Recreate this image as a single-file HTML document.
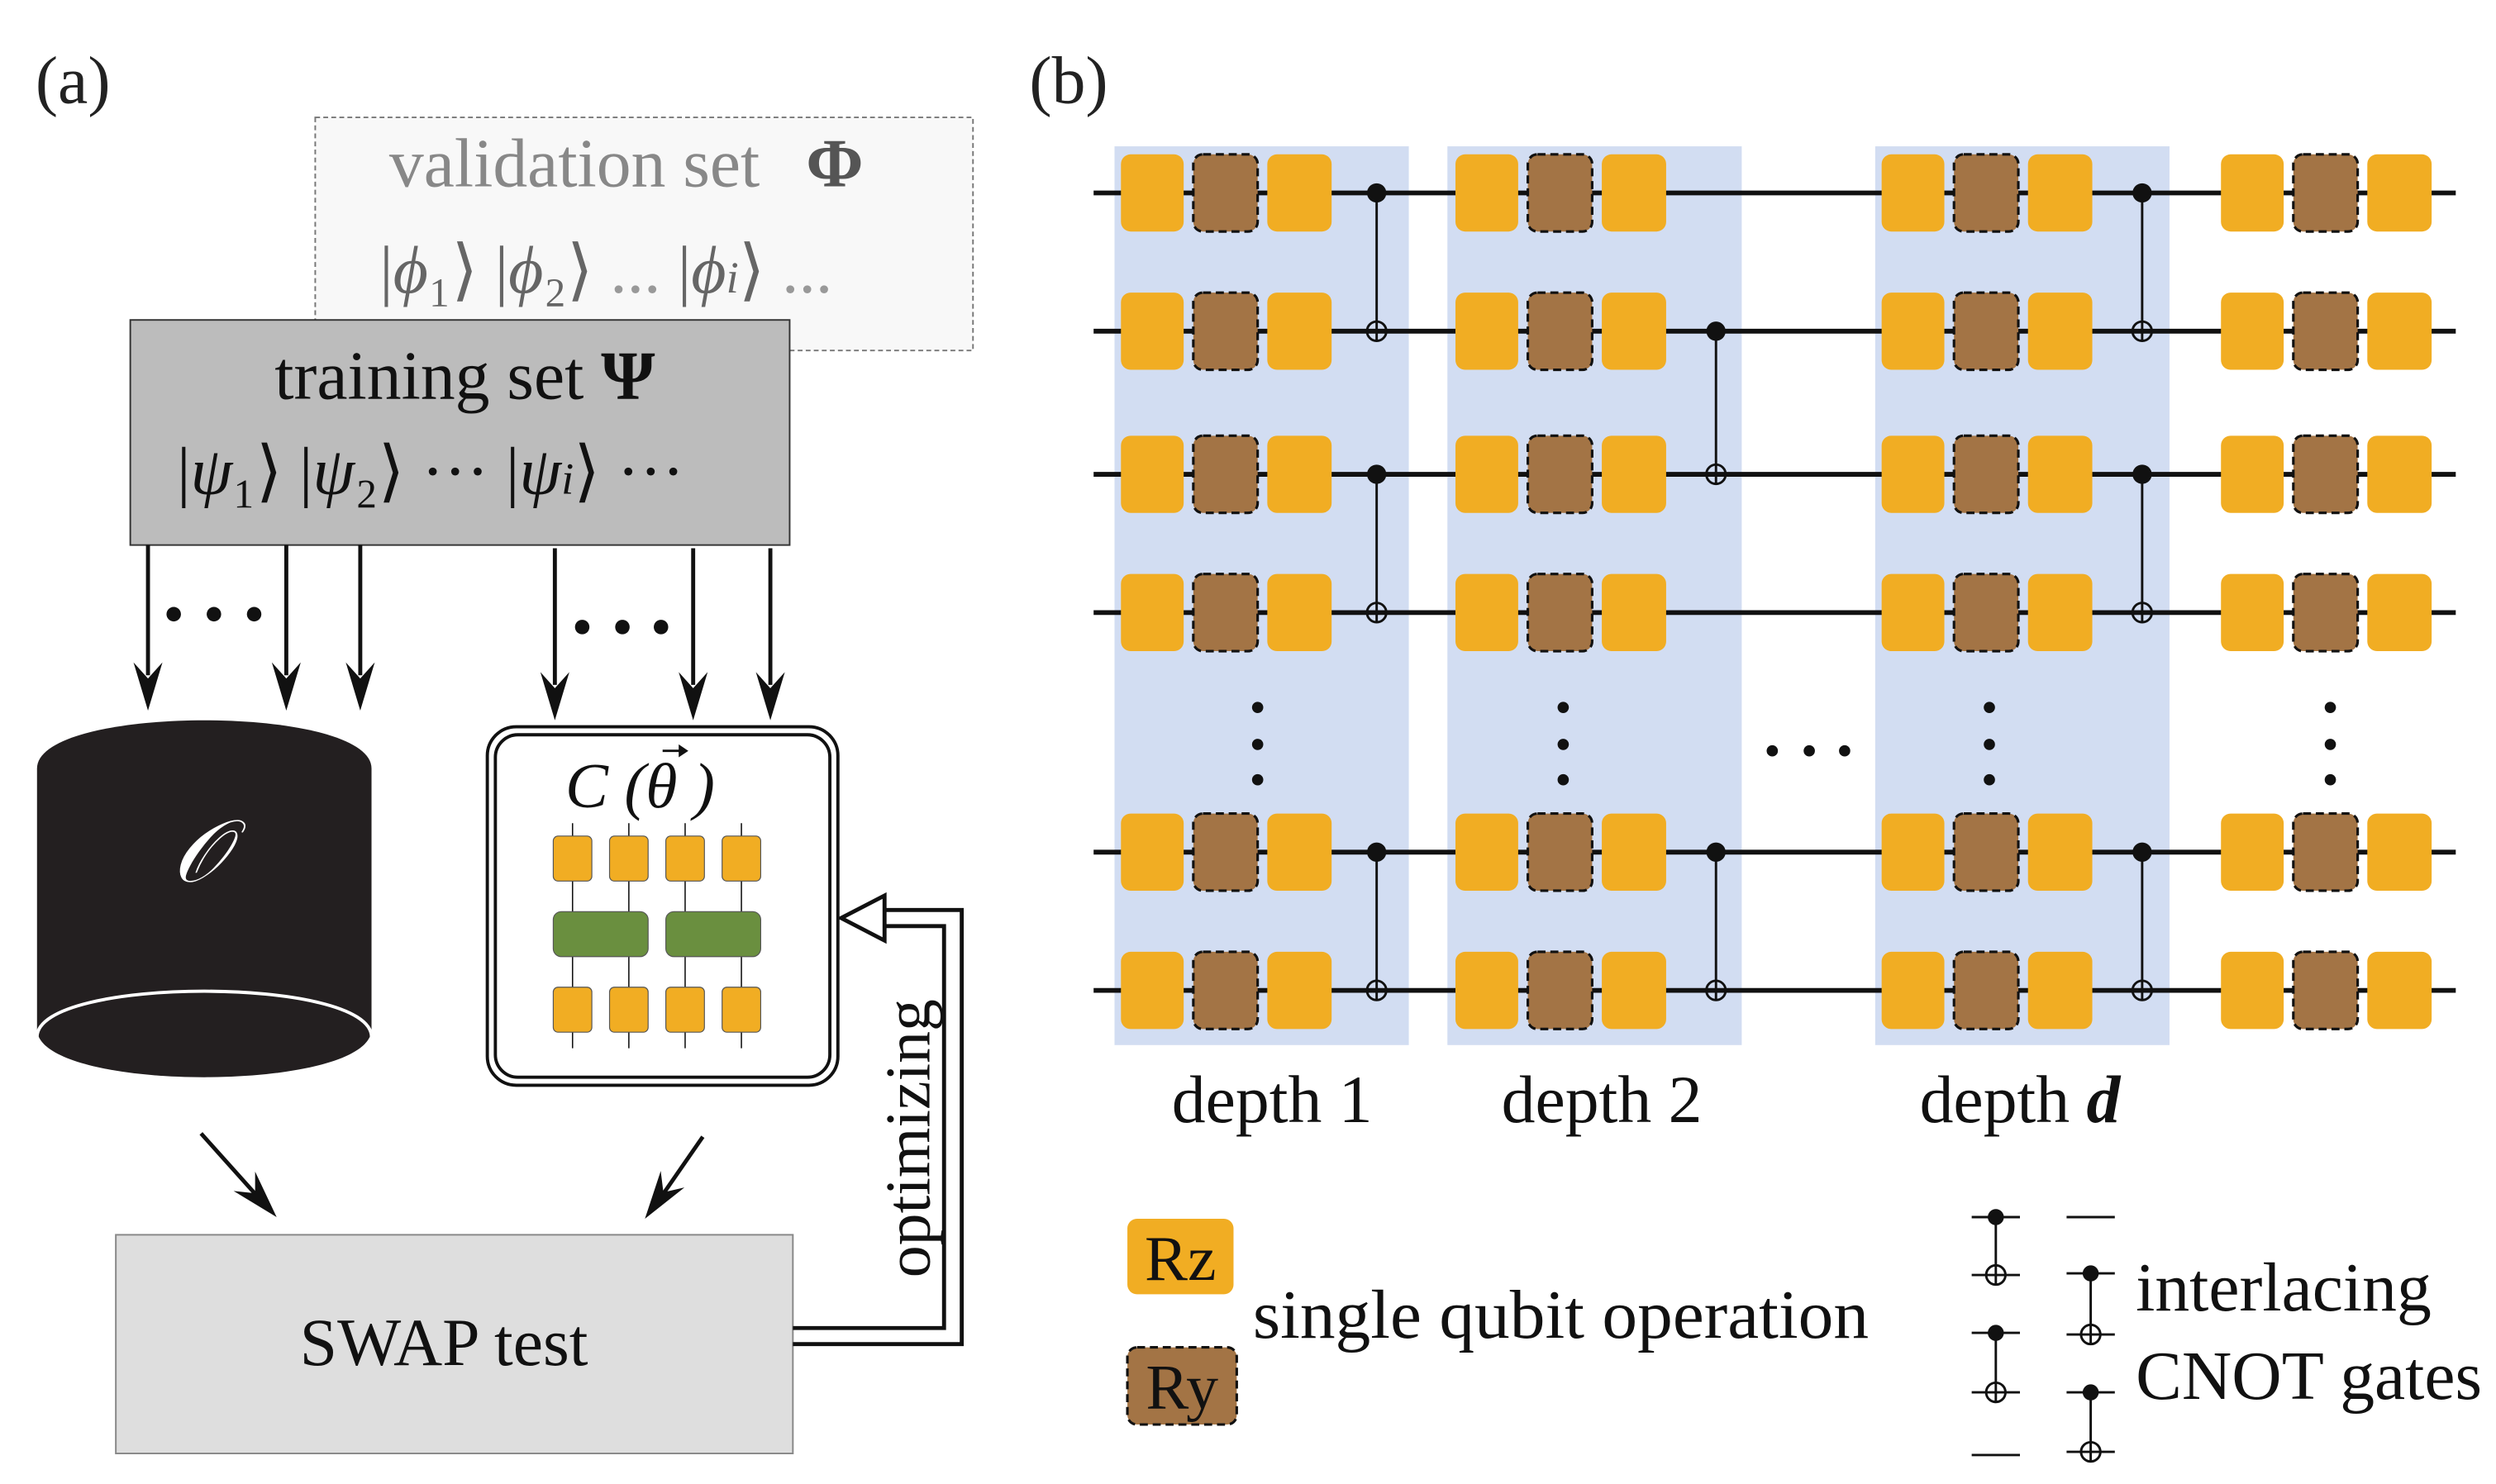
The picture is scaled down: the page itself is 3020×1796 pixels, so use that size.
<!DOCTYPE html>
<html><head><meta charset="utf-8"><style>html,body{margin:0;padding:0;background:#fff}svg{display:block}text{font-family:"Liberation Serif",serif}</style></head><body>
<svg width="3020" height="1796" viewBox="0 0 1552 923" xmlns="http://www.w3.org/2000/svg">
<defs>
<g id="gates"><rect x="0" y="-24" width="39" height="48" rx="6" fill="#f1ad23"/><rect x="45" y="-24" width="40" height="48" rx="6" fill="#a37445" stroke="#111" stroke-width="1.6" stroke-dasharray="5,3"/><rect x="91" y="-24" width="40" height="48" rx="6" fill="#f1ad23"/></g>
<path id="hd" d="M0,0 L-9,-30 L0,-20 L9,-30 Z" fill="#111"/>
</defs>
<text x="22" y="64" font-size="42" fill="#222">(a)</text>
<text x="640" y="64" font-size="42" fill="#222">(b)</text>
<!-- validation -->
<rect x="196" y="73" width="409" height="145" fill="#f8f8f8" stroke="#777" stroke-width="1" stroke-dasharray="3,2"/>
<text x="242" y="116" font-size="43" fill="#888">validation set <tspan font-weight="bold" fill="#555" dx="18">Φ</tspan></text>
<text x="236" y="182" font-size="42" fill="#666">|<tspan font-style="italic">ϕ</tspan>₁⟩ |<tspan font-style="italic">ϕ</tspan>₂⟩ <tspan fill="#999">...</tspan>  |<tspan font-style="italic">ϕ<tspan font-size="28">i</tspan></tspan>⟩ <tspan fill="#999">...</tspan></text>
<!-- training -->
<rect x="81" y="199" width="410" height="140" fill="#bcbcbc" stroke="#333" stroke-width="1"/>
<text x="289" y="248" font-size="43" text-anchor="middle" fill="#111">training set <tspan font-weight="bold">Ψ</tspan></text>
<text x="110" y="307" font-size="42" fill="#111">|<tspan font-style="italic">ψ</tspan>₁⟩ |<tspan font-style="italic">ψ</tspan>₂⟩  ···  |<tspan font-style="italic">ψ<tspan font-size="28">i</tspan></tspan>⟩  ···</text>
<g stroke="#111" stroke-width="2.5">
<line x1="92" y1="339" x2="92" y2="420"/><line x1="178" y1="339" x2="178" y2="420"/><line x1="224" y1="339" x2="224" y2="420"/>
<line x1="345" y1="341" x2="345" y2="426"/><line x1="431" y1="341" x2="431" y2="426"/><line x1="479" y1="341" x2="479" y2="426"/>
<line x1="125" y1="705" x2="160" y2="744"/><line x1="437" y1="707" x2="410" y2="746"/>
</g>
<use href="#hd" x="92" y="442"/><use href="#hd" x="178" y="442"/><use href="#hd" x="224" y="442"/>
<use href="#hd" x="345" y="448"/><use href="#hd" x="431" y="448"/><use href="#hd" x="479" y="448"/>
<use href="#hd" transform="translate(172,757) rotate(-42)"/>
<use href="#hd" transform="translate(401,758) rotate(35)"/>
<g fill="#111"><circle cx="108" cy="382" r="4.5"/><circle cx="133" cy="382" r="4.5"/><circle cx="158" cy="382" r="4.5"/><circle cx="362" cy="390" r="4.5"/><circle cx="387" cy="390" r="4.5"/><circle cx="411" cy="390" r="4.5"/></g>
<!-- cylinder -->
<path d="M23,478 C23,438 231,438 231,478 L231,640 C231,680 23,680 23,640 Z" fill="#231f20"/>
<path d="M23,645 C23,607 231,607 231,645" fill="none" stroke="#fff" stroke-width="2"/>
<text x="124" y="548" font-size="54" font-style="italic" fill="#fff" text-anchor="middle">𝒪</text>
<!-- C box -->
<rect x="303" y="452" width="218" height="223" rx="18" fill="#fff" stroke="#111" stroke-width="2"/>
<rect x="308" y="457" width="208" height="213" rx="14" fill="none" stroke="#111" stroke-width="2"/>
<text x="398" y="502" font-size="40" font-style="italic" text-anchor="middle" fill="#111">C (θ )</text>
<line x1="412" y1="467" x2="426" y2="467" stroke="#111" stroke-width="1.5"/><path d="M428,467 L422,463 L422,471 Z" fill="#111"/>
<g stroke="#111" stroke-width="0.8"><line x1="356" y1="512" x2="356" y2="652"/><line x1="391" y1="512" x2="391" y2="652"/><line x1="426" y1="512" x2="426" y2="652"/><line x1="461" y1="512" x2="461" y2="652"/></g>
<g fill="#f1ad23" stroke="#555" stroke-width="0.6">
<rect x="344" y="520" width="24" height="28" rx="3"/><rect x="379" y="520" width="24" height="28" rx="3"/><rect x="414" y="520" width="24" height="28" rx="3"/><rect x="449" y="520" width="24" height="28" rx="3"/>
<rect x="344" y="614" width="24" height="28" rx="3"/><rect x="379" y="614" width="24" height="28" rx="3"/><rect x="414" y="614" width="24" height="28" rx="3"/><rect x="449" y="614" width="24" height="28" rx="3"/>
<rect x="344" y="567" width="59" height="28" rx="5" fill="#6a8f3f"/><rect x="414" y="567" width="59" height="28" rx="5" fill="#6a8f3f"/></g>
<!-- SWAP -->
<rect x="72" y="768" width="421" height="136" fill="#dedede" stroke="#888" stroke-width="1"/>
<text x="276" y="849" font-size="42" text-anchor="middle" fill="#111">SWAP test</text>
<path d="M493,826 L587,826 L587,576 L548,576" fill="none" stroke="#111" stroke-width="2.5"/>
<path d="M493,836 L598,836 L598,566 L548,566" fill="none" stroke="#111" stroke-width="2.5"/>
<path d="M523,571 L550,557 L550,585 Z" fill="#fff" stroke="#111" stroke-width="2.5"/>
<text transform="translate(578,708) rotate(-90)" font-size="40" text-anchor="middle" fill="#111">optimizing</text>
<!-- panel b -->
<g fill="#d2ddf2"><rect x="693" y="91" width="183" height="559"/><rect x="900" y="91" width="183" height="559"/><rect x="1166" y="91" width="183" height="559"/></g>
<g stroke="#111" stroke-width="3"><line x1="680" y1="120" x2="1527" y2="120"/><line x1="680" y1="206" x2="1527" y2="206"/><line x1="680" y1="295" x2="1527" y2="295"/><line x1="680" y1="381" x2="1527" y2="381"/><line x1="680" y1="530" x2="1527" y2="530"/><line x1="680" y1="616" x2="1527" y2="616"/></g>
<g>
<use href="#gates" x="697" y="120"/><use href="#gates" x="697" y="206"/><use href="#gates" x="697" y="295"/><use href="#gates" x="697" y="381"/><use href="#gates" x="697" y="530"/><use href="#gates" x="697" y="616"/>
<use href="#gates" x="905" y="120"/><use href="#gates" x="905" y="206"/><use href="#gates" x="905" y="295"/><use href="#gates" x="905" y="381"/><use href="#gates" x="905" y="530"/><use href="#gates" x="905" y="616"/>
<use href="#gates" x="1170" y="120"/><use href="#gates" x="1170" y="206"/><use href="#gates" x="1170" y="295"/><use href="#gates" x="1170" y="381"/><use href="#gates" x="1170" y="530"/><use href="#gates" x="1170" y="616"/>
<use href="#gates" x="1381" y="120"/><use href="#gates" x="1381" y="206"/><use href="#gates" x="1381" y="295"/><use href="#gates" x="1381" y="381"/><use href="#gates" x="1381" y="530"/><use href="#gates" x="1381" y="616"/>
</g>
<g stroke="#111" stroke-width="1.5" fill="none">
<line x1="856" y1="120" x2="856" y2="212"/><line x1="856" y1="295" x2="856" y2="387"/><line x1="856" y1="530" x2="856" y2="622"/>
<line x1="1067" y1="206" x2="1067" y2="301"/><line x1="1067" y1="530" x2="1067" y2="622"/>
<line x1="1332" y1="120" x2="1332" y2="212"/><line x1="1332" y1="295" x2="1332" y2="387"/><line x1="1332" y1="530" x2="1332" y2="622"/>
<circle cx="856" cy="206" r="6"/><circle cx="856" cy="381" r="6"/><circle cx="856" cy="616" r="6"/><circle cx="1067" cy="295" r="6"/><circle cx="1067" cy="616" r="6"/><circle cx="1332" cy="206" r="6"/><circle cx="1332" cy="381" r="6"/><circle cx="1332" cy="616" r="6"/>
<line x1="1241" y1="757" x2="1241" y2="799"/><line x1="1241" y1="829" x2="1241" y2="872"/><line x1="1300" y1="792" x2="1300" y2="836"/><line x1="1300" y1="866" x2="1300" y2="909"/>
<circle cx="1241" cy="793" r="6"/><circle cx="1241" cy="866" r="6"/><circle cx="1300" cy="830" r="6"/><circle cx="1300" cy="903" r="6"/>
<line x1="1226" y1="757" x2="1256" y2="757"/><line x1="1226" y1="793" x2="1256" y2="793"/><line x1="1226" y1="829" x2="1256" y2="829"/><line x1="1226" y1="866" x2="1256" y2="866"/><line x1="1226" y1="905" x2="1256" y2="905"/>
<line x1="1285" y1="757" x2="1315" y2="757"/><line x1="1285" y1="792" x2="1315" y2="792"/><line x1="1285" y1="830" x2="1315" y2="830"/><line x1="1285" y1="866" x2="1315" y2="866"/><line x1="1285" y1="903" x2="1315" y2="903"/>
</g>
<g fill="#111">
<circle cx="856" cy="120" r="6"/><circle cx="856" cy="295" r="6"/><circle cx="856" cy="530" r="6"/><circle cx="1067" cy="206" r="6"/><circle cx="1067" cy="530" r="6"/><circle cx="1332" cy="120" r="6"/><circle cx="1332" cy="295" r="6"/><circle cx="1332" cy="530" r="6"/>
<circle cx="1241" cy="757" r="5"/><circle cx="1241" cy="829" r="5"/><circle cx="1300" cy="792" r="5"/><circle cx="1300" cy="866" r="5"/>
<circle cx="782" cy="440" r="3.5"/><circle cx="782" cy="463" r="3.5"/><circle cx="782" cy="485" r="3.5"/>
<circle cx="972" cy="440" r="3.5"/><circle cx="972" cy="463" r="3.5"/><circle cx="972" cy="485" r="3.5"/>
<circle cx="1237" cy="440" r="3.5"/><circle cx="1237" cy="463" r="3.5"/><circle cx="1237" cy="485" r="3.5"/>
<circle cx="1449" cy="440" r="3.5"/><circle cx="1449" cy="463" r="3.5"/><circle cx="1449" cy="485" r="3.5"/>
<circle cx="1102" cy="467" r="3.5"/><circle cx="1125" cy="467" r="3.5"/><circle cx="1147" cy="467" r="3.5"/>
</g>
<g font-size="42" fill="#111" text-anchor="middle"><text x="791" y="698">depth 1</text><text x="996" y="698">depth 2</text><text x="1256" y="698">depth <tspan font-style="italic" font-weight="bold">d</tspan></text></g>
<rect x="701" y="758" width="66" height="47" rx="6" fill="#f1ad23"/>
<text x="734" y="796" font-size="40" text-anchor="middle" fill="#111">Rz</text>
<rect x="701" y="838" width="68" height="48" rx="6" fill="#a37445" stroke="#111" stroke-width="1.6" stroke-dasharray="5,3"/>
<text x="735" y="876" font-size="40" text-anchor="middle" fill="#111">Ry</text>
<text x="779" y="832" font-size="43" fill="#111" textLength="383" lengthAdjust="spacingAndGlyphs">single qubit operation</text>
<text x="1328" y="815" font-size="43" fill="#111">interlacing</text>
<text x="1328" y="870" font-size="43" fill="#111">CNOT gates</text>
</svg>
</body></html>
